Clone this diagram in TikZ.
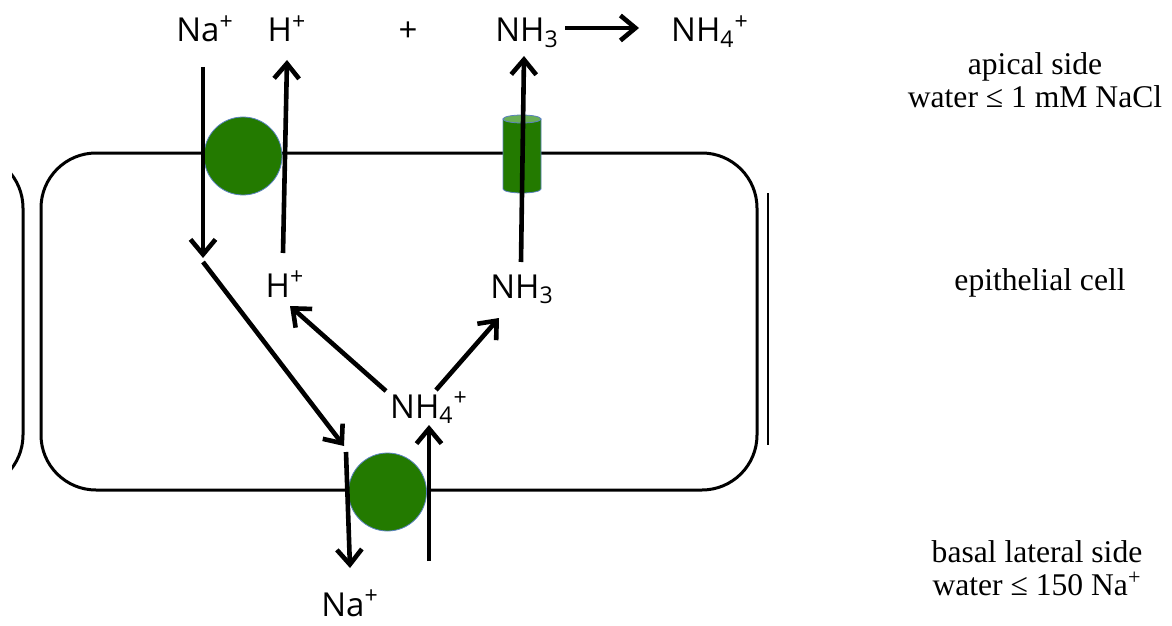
\documentclass[tikz,border=0pt]{standalone}
\usepackage{fontspec}
\setmainfont{Liberation Serif}
\newfontfamily\labfont{Open Sans}
\usetikzlibrary{arrows.meta}
\definecolor{pumpgreen}{RGB}{35,122,0}
\definecolor{pumpedge}{RGB}{90,130,190}
\definecolor{captop}{RGB}{105,175,85}
\begin{document}
\begin{tikzpicture}[x=0.5pt,y=-0.5pt,
  mem/.style={line width=1.5pt},
  flux/.style={line width=2.3pt,-{Straight Barb[length=7.5pt,width=12.5pt]}},
  ion/.style={font=\labfont\fontsize{16.5}{19}\selectfont, inner sep=0pt, anchor=base},
  note/.style={font=\fontsize{15.8}{16.2}\selectfont, align=center, inner sep=0pt},
  pump/.style={circle, fill=pumpgreen, draw=pumpedge, line width=0.4pt, minimum size=39pt, inner sep=0pt}]
\useasboundingbox (0,0) rectangle (1172,626);

% neighbouring cells
\begin{scope}
  \clip (12,100) rectangle (40,540);
  \draw[mem, rounded corners=27.5pt] (-700,153) rectangle (23,490);
\end{scope}
\draw[line width=1.2pt] (768,193) -- (768,445);

% epithelial cell
\draw[mem, rounded corners=27.5pt] (41,153) rectangle (757,490);

% transporters
\node[pump] (apump) at (243,156) {};
\node[pump] (bpump) at (387.5,492) {};
% NH3 channel
\filldraw[fill=pumpgreen, draw=pumpedge, line width=0.4pt]
  (503,119) -- (503,189) arc[start angle=180, end angle=360, x radius=9.5pt, y radius=2pt]
  -- (541,119) -- cycle;
\filldraw[fill=captop, draw=pumpedge, line width=0.4pt] (522,119) ellipse[x radius=9.5pt, y radius=2pt];

% labels (apical)
\node[ion] (naTop) at (205,42) {Na\textsuperscript{+}};
\node[ion] (hTop) at (287,42) {H\textsuperscript{+}};
\node[ion] (plus) at (408,42) {+};
\node[ion] (nh3Top) at (527,42) {NH\textsubscript{3}};
\node[ion] (nh4Top) at (710,42) {NH\textsubscript{4}\textsuperscript{+}};
% labels (cell)
\node[ion] (hIn) at (285,297) {H\textsuperscript{+}};
\node[ion] (nh3In) at (522,298) {NH\textsubscript{3}};
\node[ion] (nh4In) at (429,418) {NH\textsubscript{4}\textsuperscript{+}};
% labels (basal)
\node[ion] (naBot) at (350,616) {Na\textsuperscript{+}};

% arrow end points
\coordinate (a1) at (203,67);  \coordinate (a2) at (203,258);
\coordinate (b1) at (283,253); \coordinate (b2) at (287,60);
\coordinate (c1) at (565,28);  \coordinate (c2) at (639,28);
\coordinate (d1) at (521,262); \coordinate (d2) at (524,56);
\coordinate (e1) at (203,262); \coordinate (e2) at (344,446);
\coordinate (f1) at (386,391); \coordinate (f2) at (290,306);
\coordinate (g1) at (436,390); \coordinate (g2) at (499,318);
\coordinate (h1) at (346,452); \coordinate (h2) at (350,568);
\coordinate (k1) at (429,561); \coordinate (k2) at (429,425);

\draw[flux] (a1) -- (a2);
\draw[flux] (b1) -- (b2);
\draw[flux] (c1) -- (c2);
\draw[flux] (d1) -- (d2);
\draw[flux] (e1) -- (e2);
\draw[flux] (f1) -- (f2);
\draw[flux] (g1) -- (g2);
\draw[flux] (h1) -- (h2);
\draw[flux] (k1) -- (k2);

% side notes
\node[note] (apical) at (1035,80) {apical side\\water ≤ 1 mM NaCl};
\node[note] (epi) at (1040,283) {epithelial cell};
\node[note] (basal) at (1037,568) {basal lateral side\\water ≤ 150 Na\textsuperscript{+}};
\end{tikzpicture}
\end{document}
